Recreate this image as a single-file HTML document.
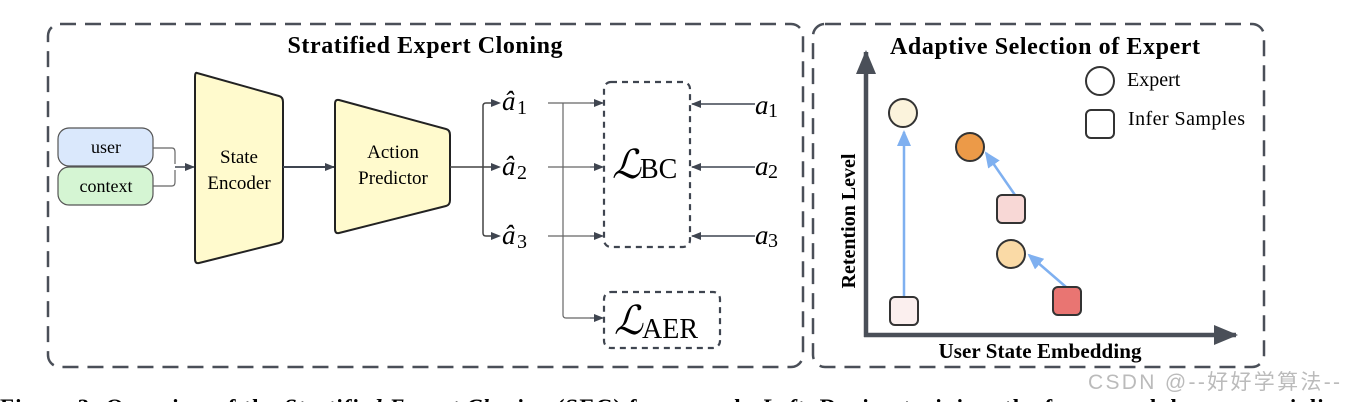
<!DOCTYPE html>
<html><head><meta charset="utf-8"><style>
html,body{margin:0;padding:0;background:#fff;width:1346px;height:402px;overflow:hidden}
svg text{font-family:"Liberation Serif",serif}
</style></head><body>
<svg width="1346" height="402" viewBox="0 0 1346 402" xmlns="http://www.w3.org/2000/svg">
<defs>
<marker id="ah" markerWidth="10" markerHeight="8" refX="9" refY="4" orient="auto" markerUnits="userSpaceOnUse"><path d="M0,0 L10,4 L0,8 Z" fill="#3f4550"/></marker>
<marker id="ab" markerWidth="16" markerHeight="14" refX="14" refY="7" orient="auto" markerUnits="userSpaceOnUse"><path d="M0,0 L16,7 L0,14 Z" fill="#7fb0f0"/></marker>
<marker id="ax" markerWidth="24" markerHeight="20" refX="22" refY="10" orient="auto" markerUnits="userSpaceOnUse"><path d="M0,0 L24,10 L0,20 Z" fill="#4a4f58"/></marker>
</defs>
<rect x="48" y="24" width="755" height="343" rx="12" fill="none" stroke="#4a4f58" stroke-width="2.5" stroke-dasharray="16,9"/>
<rect x="813" y="24" width="451" height="343" rx="12" fill="none" stroke="#4a4f58" stroke-width="2.5" stroke-dasharray="16,9"/>
<text x="425" y="53" font-size="24" font-weight="bold" text-anchor="middle" textLength="275">Stratified Expert Cloning</text>
<rect x="58" y="128" width="95" height="38" rx="11" fill="#dae8fc" stroke="#555" stroke-width="1.2"/>
<text x="106" y="153" font-size="18" text-anchor="middle">user</text>
<rect x="58" y="167" width="95" height="38" rx="11" fill="#d5f5d3" stroke="#555" stroke-width="1.2"/>
<text x="106" y="192" font-size="18" text-anchor="middle">context</text>
<path d="M153,148 H172 Q175,148 175,152 V164 M153,186 H172 Q175,186 175,182 V170" fill="none" stroke="#666" stroke-width="1.2"/>
<line x1="175" y1="167" x2="194" y2="167" stroke="#3f4550" stroke-width="1.5" marker-end="url(#ah)"/>
<path d="M197,73 L279,96 Q283,97 283,102 V237 Q283,242 279,243 L199,263 Q195,264 195,259 V77 Q195,72 197,73 Z" fill="#fffacd" stroke="#222" stroke-width="2"/>
<text x="239" y="163" font-size="19" text-anchor="middle">State</text>
<text x="239" y="189" font-size="19" text-anchor="middle">Encoder</text>
<line x1="283" y1="167" x2="334" y2="167" stroke="#3f4550" stroke-width="2" marker-end="url(#ah)"/>
<path d="M339,100 L446,129 Q450,130 450,135 V200 Q450,205 446,206 L339,233 Q335,234 335,229 V104 Q335,99 339,100 Z" fill="#fffacd" stroke="#222" stroke-width="2"/>
<text x="393" y="158" font-size="19" text-anchor="middle">Action</text>
<text x="393" y="184" font-size="19" text-anchor="middle">Predictor</text>
<path d="M450,167 H483 M483,167 V106 Q483,103 486,103 H498 M483,167 H498 M483,167 V233 Q483,236 486,236 H498" fill="none" stroke="#444" stroke-width="1.5"/>
<line x1="490" y1="103" x2="500" y2="103" stroke="#3f4550" marker-end="url(#ah)"/>
<line x1="490" y1="167" x2="500" y2="167" stroke="#3f4550" marker-end="url(#ah)"/>
<line x1="490" y1="236" x2="500" y2="236" stroke="#3f4550" marker-end="url(#ah)"/>
<g font-size="27" font-style="italic"><text x="502" y="110">â</text><text x="502" y="175">â</text><text x="502" y="244">â</text></g>
<g font-size="20"><text x="517" y="114">1</text><text x="517" y="179">2</text><text x="517" y="248">3</text></g>
<path d="M548,103 H603 M548,167 H603 M548,236 H603 M563,103 V315 Q563,318 566,318 H603" fill="none" stroke="#666" stroke-width="1.2"/>
<line x1="590" y1="103" x2="603" y2="103" stroke="#3f4550" marker-end="url(#ah)"/>
<line x1="590" y1="167" x2="603" y2="167" stroke="#3f4550" marker-end="url(#ah)"/>
<line x1="590" y1="236" x2="603" y2="236" stroke="#3f4550" marker-end="url(#ah)"/>
<line x1="590" y1="318" x2="603" y2="318" stroke="#3f4550" marker-end="url(#ah)"/>
<rect x="604" y="82" width="86" height="165" rx="7" fill="none" stroke="#3f4550" stroke-width="2.2" stroke-dasharray="6,5"/>
<text x="612" y="178" font-size="40" font-style="italic">ℒ</text><text x="640" y="178" font-size="28">BC</text>
<rect x="604" y="292" width="116" height="56" rx="7" fill="none" stroke="#3f4550" stroke-width="2.2" stroke-dasharray="6,5"/>
<text x="614" y="334" font-size="40" font-style="italic">ℒ</text><text x="642" y="338" font-size="28">AER</text>
<line x1="755" y1="104" x2="692" y2="104" stroke="#3f4550" stroke-width="1.5" marker-end="url(#ah)"/>
<line x1="755" y1="167" x2="692" y2="167" stroke="#3f4550" stroke-width="1.5" marker-end="url(#ah)"/>
<line x1="755" y1="236" x2="692" y2="236" stroke="#3f4550" stroke-width="1.5" marker-end="url(#ah)"/>
<g font-size="27" font-style="italic"><text x="755" y="114">a</text><text x="755" y="175">a</text><text x="755" y="244">a</text></g>
<g font-size="20"><text x="768" y="117">1</text><text x="768" y="178">2</text><text x="768" y="247">3</text></g>
<text x="1045" y="54" font-size="24" font-weight="bold" text-anchor="middle" textLength="310">Adaptive Selection of Expert</text>
<line x1="866" y1="337" x2="866" y2="52" stroke="#4a4f58" stroke-width="4.5" marker-end="url(#ax)"/>
<line x1="864" y1="335" x2="1236" y2="335" stroke="#4a4f58" stroke-width="4.5" marker-end="url(#ax)"/>
<text x="1040" y="358" font-size="21" font-weight="bold" text-anchor="middle" textLength="203">User State Embedding</text>
<text transform="translate(855,221) rotate(-90)" font-size="20" font-weight="bold" text-anchor="middle">Retention Level</text>
<circle cx="1100" cy="81" r="14" fill="#fff" stroke="#333" stroke-width="2"/>
<text x="1127" y="86" font-size="20">Expert</text>
<rect x="1086" y="110" width="28" height="28" rx="5" fill="#fff" stroke="#333" stroke-width="2"/>
<text x="1128" y="125" font-size="20" textLength="117">Infer Samples</text>
<line x1="904" y1="297" x2="904" y2="132" stroke="#7fb0f0" stroke-width="2.5" marker-end="url(#ab)"/>
<line x1="1015" y1="195" x2="986" y2="153" stroke="#7fb0f0" stroke-width="2.5" marker-end="url(#ab)"/>
<line x1="1066" y1="287" x2="1029" y2="255" stroke="#7fb0f0" stroke-width="2.5" marker-end="url(#ab)"/>
<circle cx="903" cy="113" r="14" fill="#fbf3dc" stroke="#333" stroke-width="2"/>
<circle cx="970" cy="147" r="14" fill="#ec9a48" stroke="#333" stroke-width="2"/>
<circle cx="1011" cy="254" r="14" fill="#fadaa6" stroke="#333" stroke-width="2"/>
<rect x="890" y="297" width="28" height="28" rx="5" fill="#fbefee" stroke="#333" stroke-width="2"/>
<rect x="997" y="195" width="28" height="28" rx="5" fill="#f8d8d6" stroke="#333" stroke-width="2"/>
<rect x="1053" y="287" width="28" height="28" rx="5" fill="#e97572" stroke="#333" stroke-width="2"/>
<text x="1088" y="389" font-size="21" fill="#bbb" textLength="252" style="font-family:'Liberation Sans','Noto Sans CJK SC',sans-serif">CSDN @--好好学算法--</text>
<text x="0" y="415" font-size="23" font-weight="bold" textLength="1360">Figure 3: Overview of the <tspan font-style="italic">Stratified Expert Cloning</tspan> (SEC) framework. <tspan font-style="italic">Left:</tspan> During training, the framework learns specialized</text>
</svg>
</body></html>
